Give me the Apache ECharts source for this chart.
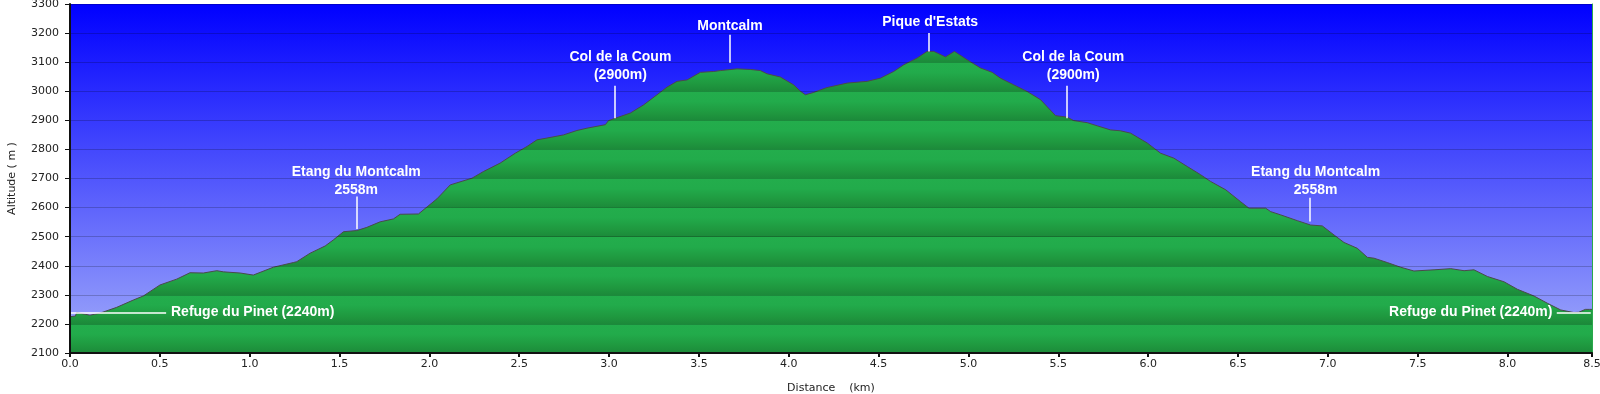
<!DOCTYPE html>
<html>
<head>
<meta charset="utf-8">
<script src="https://cdn.jsdelivr.net/npm/echarts@6/dist/echarts.min.js"></script>
<style>
  html, body { margin: 0; padding: 0; background: #ffffff; }
  #chart { width: 1600px; height: 394px; }
</style>
</head>
<body>
<div id="chart"></div>
<script>
// ---- data ----
const distanceKm = [0.000,0.030,0.037,0.111,0.167,0.260,0.352,0.408,0.501,0.594,0.668,0.742,0.817,0.854,0.947,1.020,1.132,1.243,1.262,1.336,1.420,1.466,1.522,1.596,1.652,1.726,1.800,1.837,1.939,2.042,2.116,2.237,2.301,2.394,2.478,2.543,2.599,2.654,2.747,2.821,2.877,2.979,2.997,3.034,3.118,3.192,3.267,3.322,3.378,3.434,3.508,3.582,3.619,3.712,3.786,3.842,3.879,3.953,4.027,4.065,4.092,4.139,4.204,4.222,4.325,4.436,4.510,4.584,4.640,4.714,4.770,4.807,4.872,4.922,4.993,5.067,5.132,5.178,5.252,5.327,5.401,5.485,5.549,5.586,5.661,5.717,5.791,5.846,5.902,5.995,6.069,6.143,6.218,6.292,6.347,6.432,6.515,6.561,6.654,6.682,6.737,6.830,6.904,6.969,7.034,7.090,7.164,7.220,7.257,7.331,7.405,7.479,7.591,7.684,7.758,7.813,7.888,7.980,8.055,8.147,8.222,8.296,8.369,8.396,8.433,8.455,8.470];
const altitudeM = [2225,2227,2239,2230,2237,2257,2282,2296,2334,2354,2376,2375,2383,2379,2375,2368,2395,2411,2414,2443,2468,2489,2517,2521,2532,2551,2561,2577,2578,2630,2678,2701,2724,2753,2787,2810,2833,2839,2850,2865,2873,2885,2899,2907,2925,2953,2988,3014,3034,3039,3065,3068,3071,3077,3075,3071,3060,3049,3022,3000,2988,2996,3011,3014,3028,3034,3045,3068,3091,3114,3137,3137,3118,3137,3108,3080,3065,3045,3022,2999,2971,2916,2911,2899,2892,2881,2867,2864,2856,2822,2787,2770,2741,2713,2690,2661,2620,2598,2598,2586,2575,2555,2540,2537,2506,2480,2460,2429,2426,2411,2395,2382,2386,2390,2383,2386,2363,2345,2319,2296,2271,2248,2239,2240,2250,2250,2250];

const xMin = 0, xMax = 8.47, xStep = 0.5;
const yMin = 2100, yMax = 3300, yStep = 100;

// annotation texts and anchor values
const annotTexts = ['Refuge du Pinet (2240m)', 'Etang du Montcalm\n2558m', 'Col de la Coum\n(2900m)', 'Montcalm', "Pique d'Estats", 'Col de la Coum\n(2900m)', 'Etang du Montcalm\n2558m', 'Refuge du Pinet (2240m)'];
const annotTextX = [0.562, 1.593, 3.063, 3.673, 4.787, 5.583, 6.932, 8.250];
const annotTextY = [2240, 2692, 3087, 3225, 3237, 3087, 2692, 2240];
const annotAlign = ['left', 'center', 'center', 'center', 'center', 'center', 'center', 'right'];
// leader lines
const leaderStartX = [0.000, 1.594, 3.031, 3.671, 4.779, 5.546, 6.900, 8.274];
const leaderStartY = [2240, 2638, 3019, 3194, 3200, 3019, 2634, 2240];
const leaderEndX   = [0.535, 1.594, 3.031, 3.671, 4.779, 5.546, 6.900, 8.463];
const leaderEndY   = [2240, 2526, 2907, 3098, 3137, 2907, 2552, 2240];

// ---- chart ----
const GRID = { left: 70, right: 8, top: 4, bottom: 41 };
const H = 394;
const plotTop = GRID.top, plotBottom = H - GRID.bottom;

const nBands = (yMax - yMin) / yStep;
const greenStops = [];
for (let k = 0; k < nBands; k++) {
  const s = k / nBands, e = (k + 1) / nBands, w = 1 / nBands;
  greenStops.push({ offset: s, color: '#23ad4c' });
  greenStops.push({ offset: s + 0.35 * w, color: '#22ab4b' });
  greenStops.push({ offset: s + 0.75 * w, color: '#1f983f' });
  greenStops.push({ offset: e - 0.0005, color: '#1c8a3a' });
}

const chart = echarts.init(document.getElementById('chart'), null, { renderer: 'canvas' });

const profile = distanceKm.map((d, i) => [d, altitudeM[i]]);
const textData = annotTexts.map((t, i) => ({
  value: [annotTextX[i], annotTextY[i], t],
  label: { align: annotAlign[i] }
}));
const leaderData = leaderStartX.map((x, i) => [
  { coord: [x, leaderStartY[i]] },
  { coord: [leaderEndX[i], leaderEndY[i]] }
]);

const axisFont = { fontFamily: 'DejaVu Sans', fontSize: 11, color: '#222' };

chart.setOption({
  animation: false,
  backgroundColor: '#ffffff',
  grid: Object.assign({
    show: true,
    borderWidth: 0,
    containLabel: false,
    outerBoundsMode: 'none',
    backgroundColor: new echarts.graphic.LinearGradient(0, 0, 0, 1, [
      { offset: 0, color: '#0000ff' },
      { offset: 1, color: '#a2acfa' }
    ])
  }, GRID),
  xAxis: {
    type: 'value',
    min: xMin, max: xMax, interval: xStep,
    z: 5,
    name: 'Distance    (km)',
    nameLocation: 'middle',
    nameGap: 30,
    nameTextStyle: axisFont,
    axisLine: { show: true, onZero: false, lineStyle: { color: '#111', width: 2 } },
    axisTick: { show: true, length: 4, lineStyle: { color: '#111', width: 2 } },
    axisLabel: Object.assign({ margin: 6, showMaxLabel: true, formatter: v => v.toFixed(1) }, axisFont),
    splitLine: { show: false }
  },
  yAxis: [{
    type: 'value',
    min: yMin, max: yMax, interval: yStep,
    z: 5,
    name: 'Altitude ( m )',
    nameLocation: 'middle',
    nameGap: 52,
    nameRotate: 90,
    nameTextStyle: axisFont,
    axisLine: { show: true, lineStyle: { color: '#111', width: 2 } },
    axisTick: { show: true, length: 5, lineStyle: { color: '#111', width: 1 } },
    axisLabel: Object.assign({ margin: 11, formatter: v => String(v) }, axisFont),
    splitLine: { show: true, lineStyle: { color: 'rgba(0,0,0,0.2)', width: 1 } }
  }, {
    type: 'value',
    position: 'right',
    min: yMin, max: yMax, interval: yStep,
    z: 5,
    axisLine: { show: true, lineStyle: { color: '#2aa84b', width: 1 } },
    axisTick: { show: false },
    axisLabel: { show: false },
    splitLine: { show: false }
  }],
  series: [{
    type: 'line',
    data: profile,
    showSymbol: false,
    symbol: 'none',
    z: 2,
    lineStyle: { color: '#4a4a4a', width: 1 },
    areaStyle: {
      origin: 'start',
      opacity: 1,
      color: new echarts.graphic.LinearGradient(0, plotTop, 0, plotBottom, greenStops, true)
    },
    silent: true
  }, {
    type: 'scatter',
    data: textData,
    symbolSize: 0,
    z: 10,
    silent: true,
    itemStyle: { opacity: 1 },
    label: {
      show: true,
      position: 'inside',
      formatter: p => p.value[2],
      color: '#ffffff',
      textBorderWidth: 0,
      textBorderColor: 'transparent',
      textShadowBlur: 0,
      fontFamily: 'Liberation Sans',
      fontWeight: 'bold',
      fontSize: 14,
      lineHeight: 18,
      verticalAlign: 'middle'
    },
    markLine: {
      silent: true,
      symbol: ['none', 'none'],
      label: { show: false },
      lineStyle: { color: '#ffffff', width: 1.5, type: 'solid', opacity: 1 },
      data: leaderData,
      animation: false
    }
  }]
});
</script>
</body>
</html>
